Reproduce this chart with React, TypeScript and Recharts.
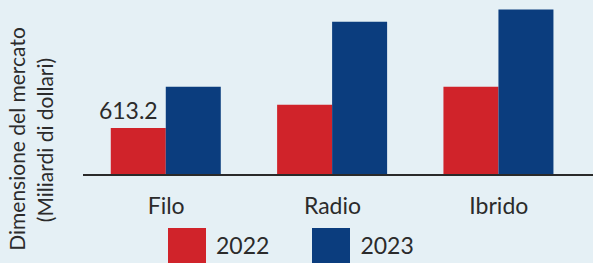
import { BarChart, Bar, XAxis, YAxis, Legend, LabelList } from "recharts"

const categories = ["Filo", "Radio", "Ibrido"]
const values2022 = [613.2, 913, 1148]
const values2023 = [1148, 1996, 2153]
const labels2022 = ["613.2", "", ""]

const RED = "#d0232a"
const BLUE = "#0b3d7e"
const TEXT = "#2b2b2b"
const FONT = "Lato, 'Open Sans', sans-serif"

const data = categories.map((name, i) => ({
  name,
  y2022: values2022[i],
  y2023: values2023[i],
  label: labels2022[i],
}))

const YLabel = () => (
  <g fill={TEXT} fontFamily={FONT} fontSize={21}>
    <text transform="translate(25,139) rotate(-90)" textAnchor="middle">
      Dimensione del mercato
    </text>
    <text transform="translate(53,140) rotate(-90)" textAnchor="middle">
      (Miliardi di dollari)
    </text>
  </g>
)

const LegendBox = () => (
  <div style={{ display: "flex", fontFamily: FONT, fontSize: 23, color: TEXT }}>
    {[
      { name: "2022", color: RED },
      { name: "2023", color: BLUE },
    ].map((item) => (
      <div key={item.name} style={{ display: "flex", alignItems: "flex-start", marginRight: 43 }}>
        <div style={{ width: 38, height: 38, background: item.color }} />
        <span style={{ marginLeft: 10, lineHeight: "34px" }}>{item.name}</span>
      </div>
    ))}
  </div>
)

export default function App() {
  return (
    <div
      style={{
        position: "absolute",
        left: 0,
        top: 0,
        width: 593,
        height: 263,
        overflow: "hidden",
        background: "#e5f0f5",
      }}
    >
      <BarChart
        width={593}
        height={263}
        data={data}
        margin={{ top: 6, right: 11, left: 0, bottom: 0 }}
        barCategoryGap="16.7%"
        barGap={0}
      >
        <XAxis
          dataKey="name"
          height={88}
          tickLine={false}
          tickMargin={17}
          axisLine={{ stroke: "#2a2a2a", strokeWidth: 2 }}
          tick={{ fill: TEXT, fontSize: 23, fontFamily: FONT }}
        />
        <YAxis width={83} domain={[0, 2200]} tick={false} axisLine={false} label={<YLabel />} />
        <Bar dataKey="y2022" fill={RED} isAnimationActive={false}>
          <LabelList
            dataKey="label"
            content={(p: any) =>
              p.value ? (
                <text
                  x={p.x + p.width / 2 - 10}
                  y={p.y - 9}
                  textAnchor="middle"
                  fill={TEXT}
                  fontSize={23}
                  fontFamily={FONT}
                >
                  {p.value}
                </text>
              ) : null
            }
          />
        </Bar>
        <Bar dataKey="y2023" fill={BLUE} isAnimationActive={false} />
        <Legend
          layout="horizontal"
          verticalAlign="middle"
          align="center"
          wrapperStyle={{ position: "absolute", left: 168, top: 228, width: "auto" }}
          content={() => <LegendBox />}
        />
      </BarChart>
      <div
        style={{
          position: "absolute",
          left: 582,
          top: 174,
          width: 11,
          height: 2,
          background: "#2a2a2a",
        }}
      />
    </div>
  )
}
